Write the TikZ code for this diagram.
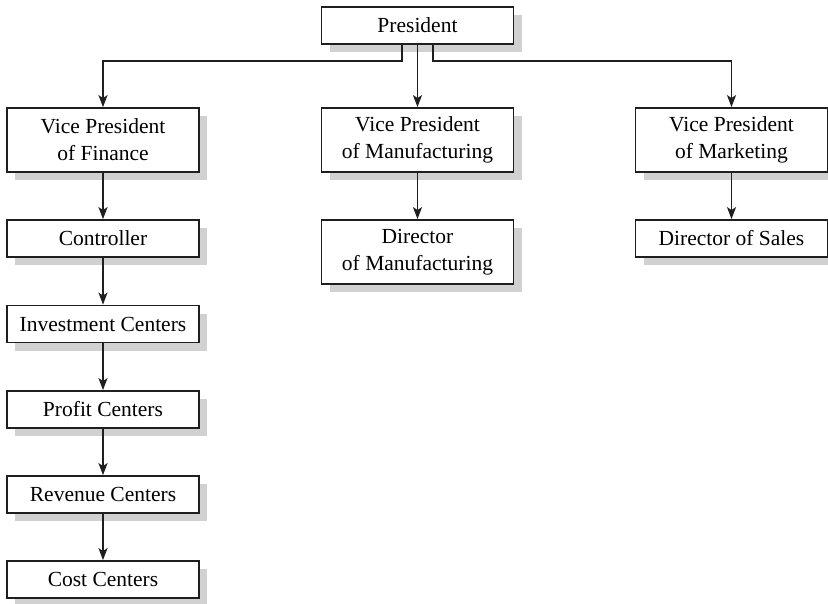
\documentclass[tikz,border=0pt]{standalone}
\usepackage{fontspec}
\setmainfont{Liberation Serif}
\usetikzlibrary{shadows,arrows.meta}
\begin{document}
\begin{tikzpicture}[x=1pt,y=-1pt,
  box/.style={draw=black!88,line width=1.8pt,fill=white,align=center,
    minimum width=192pt,inner sep=0pt,
    font=\fontsize{21.5}{27}\selectfont,
    drop shadow={shadow xshift=8pt,shadow yshift=-8pt,fill=black!18,opacity=1}},
  one/.style={box,minimum height=37pt},
  two/.style={box,minimum height=64pt},
  arr/.style={line width=1.8pt,draw=black!88,-{Stealth[length=12pt,width=9pt,inset=3pt]}}]
\useasboundingbox (0,0) rectangle (828,603);
\node[one] (pres) at (417.5,25.5) {President};
\node[two] (vpf) at (103,140) {Vice President\\of Finance};
\node[two] (vpm) at (417.5,140) {Vice President\\of Manufacturing};
\node[two] (vpk) at (731.5,140) {Vice President\\of Marketing};
\node[one] (ctl) at (103,238.5) {Controller};
\node[one] (inv) at (103,324) {Investment Centers};
\node[one] (pro) at (103,409.5) {Profit Centers};
\node[one] (rev) at (103,494.5) {Revenue Centers};
\node[one] (cst) at (103,579.5) {Cost Centers};
\node[two] (dom) at (417.5,252) {Director\\of Manufacturing};
\node[one] (dos) at (731.5,238.5) {Director of Sales};
\draw[arr] (pres.south) ++(-15.5,0) -- ++(0,16) -| (vpf.north);
\draw[arr] (pres.south) ++(15.5,0) -- ++(0,16) -| (vpk.north);
\draw[arr] (pres) -- (vpm);
\draw[arr] (vpf) -- (ctl);
\draw[arr] (ctl) -- (inv);
\draw[arr] (inv) -- (pro);
\draw[arr] (pro) -- (rev);
\draw[arr] (rev) -- (cst);
\draw[arr] (vpm) -- (dom);
\draw[arr] (vpk) -- (dos);
\end{tikzpicture}
\end{document}
